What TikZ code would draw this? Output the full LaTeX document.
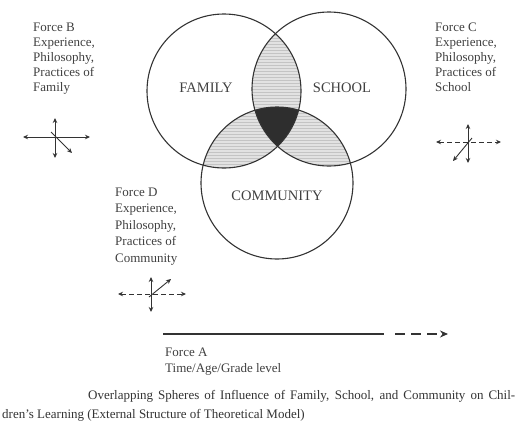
\documentclass[tikz,border=0pt]{standalone}
\usepackage{fontspec}
\setmainfont{Liberation Serif}
\usetikzlibrary{arrows.meta,patterns}
\definecolor{txt}{HTML}{404040}
\definecolor{ink}{HTML}{333333}
\definecolor{lens}{HTML}{E2E2E2}
\definecolor{hatch}{HTML}{C4C4C4}
\definecolor{core}{HTML}{2E2E2E}
\tikzset{
  forcetext/.style={anchor=north west,inner sep=0pt,align=left,text=txt,font=\fontsize{13}{15}\selectfont},
  circlabel/.style={inner sep=0pt,text=txt,font=\fontsize{14.5}{16}\selectfont},
  sphere/.style={draw=ink,line width=1.1pt},
  lensfill/.style={fill=lens,postaction={pattern=horizontal lines,pattern color=hatch}},
  crossarrow/.style={draw=ink,line width=0.9pt,{Stealth[length=5pt,width=4.5pt]}-{Stealth[length=5pt,width=4.5pt]}},
  onearrow/.style={draw=ink,line width=0.9pt,-{Stealth[length=5pt,width=4.5pt]}},
  timeline/.style={draw=ink,line width=1.1pt}
}
\begin{document}
\begin{tikzpicture}[x=1pt,y=-1pt]
\useasboundingbox (0,0) rectangle (520,426);
% circles
\coordinate (F) at (224,91);
\coordinate (S) at (329,89);
\coordinate (C) at (277,183);
\begin{scope}
  \clip (F) circle[radius=77pt];
  \path[lensfill] (S) circle[radius=77pt];
  \path[lensfill] (C) circle[radius=76pt];
\end{scope}
\begin{scope}
  \clip (S) circle[radius=77pt];
  \path[lensfill] (C) circle[radius=76pt];
\end{scope}
\begin{scope}
  \clip (F) circle[radius=77pt];
  \clip (S) circle[radius=77pt];
  \fill[core] (C) circle[radius=76pt];
\end{scope}
\draw[sphere] (F) circle[radius=77pt];
\draw[sphere] (S) circle[radius=77pt];
\draw[sphere] (C) circle[radius=76pt];
\node[circlabel] (famlabel) at (206,88) {FAMILY};
\node[circlabel] (schlabel) at (342,88) {SCHOOL};
\node[circlabel] (comlabel) at (277,196) {COMMUNITY};
% Force B
\node[forcetext] (forceB) at (33,22.5) {Force B\\Experience,\\Philosophy,\\Practices of\\Family};
\coordinate (Bl) at (23,137); \coordinate (Br) at (90,137);
\coordinate (Bt) at (55,118); \coordinate (Bb) at (55,158);
\coordinate (Bd0) at (51,132); \coordinate (Bd1) at (72,153);
\draw[crossarrow] (Bl) -- (Br);
\draw[crossarrow] (Bt) -- (Bb);
\draw[onearrow] (Bd0) -- (Bd1);
% Force C
\node[forcetext] (forceC) at (435,22.5) {Force C\\Experience,\\Philosophy,\\Practices of\\School};
\coordinate (Cl) at (436,142); \coordinate (Cr) at (501,142);
\coordinate (Ct) at (468,124); \coordinate (Cb) at (468,163);
\coordinate (Cd0) at (472,138); \coordinate (Cd1) at (453,161);
\draw[crossarrow,dashed,dash pattern=on 5pt off 3pt] (Cl) -- (Cr);
\draw[crossarrow] (Ct) -- (Cb);
\draw[onearrow] (Cd0) -- (Cd1);
% Force D
\node[forcetext,font=\fontsize{13}{16.5}\selectfont] (forceD) at (115,187.5) {Force D\\Experience,\\Philosophy,\\Practices of\\Community};
\coordinate (Dl) at (118,294); \coordinate (Dr) at (186,294);
\coordinate (Dt) at (151,277); \coordinate (Db) at (151,312);
\coordinate (Dd0) at (149,297); \coordinate (Dd1) at (171,279);
\draw[crossarrow,dashed,dash pattern=on 5pt off 3pt] (Dl) -- (Dr);
\draw[crossarrow] (Dt) -- (Db);
\draw[onearrow] (Dd0) -- (Dd1);
% Force A
\coordinate (A0) at (163,334); \coordinate (A1) at (384,334);
\coordinate (A2) at (395,334); \coordinate (A3) at (448,334);
\draw[timeline] (A0) -- (A1);
\draw[timeline,dash pattern=on 10pt off 6pt,-{Stealth[length=8pt,width=7pt]}] (A2) -- (A3);
\node[forcetext,font=\fontsize{13}{16}\selectfont] (forceA) at (165,347.5) {Force A\\Time/Age/Grade level};
% caption
\node[anchor=north west,inner sep=0pt,align=justify,text width=513pt,text=black!80,font=\fontsize{13}{19}\selectfont] (caption) at (2,390)
 {\hspace*{86pt}Overlapping Spheres of Influence of Family, School, and Community on Chil-\linebreak dren's Learning (External Structure of Theoretical Model)};
\end{tikzpicture}
\end{document}
